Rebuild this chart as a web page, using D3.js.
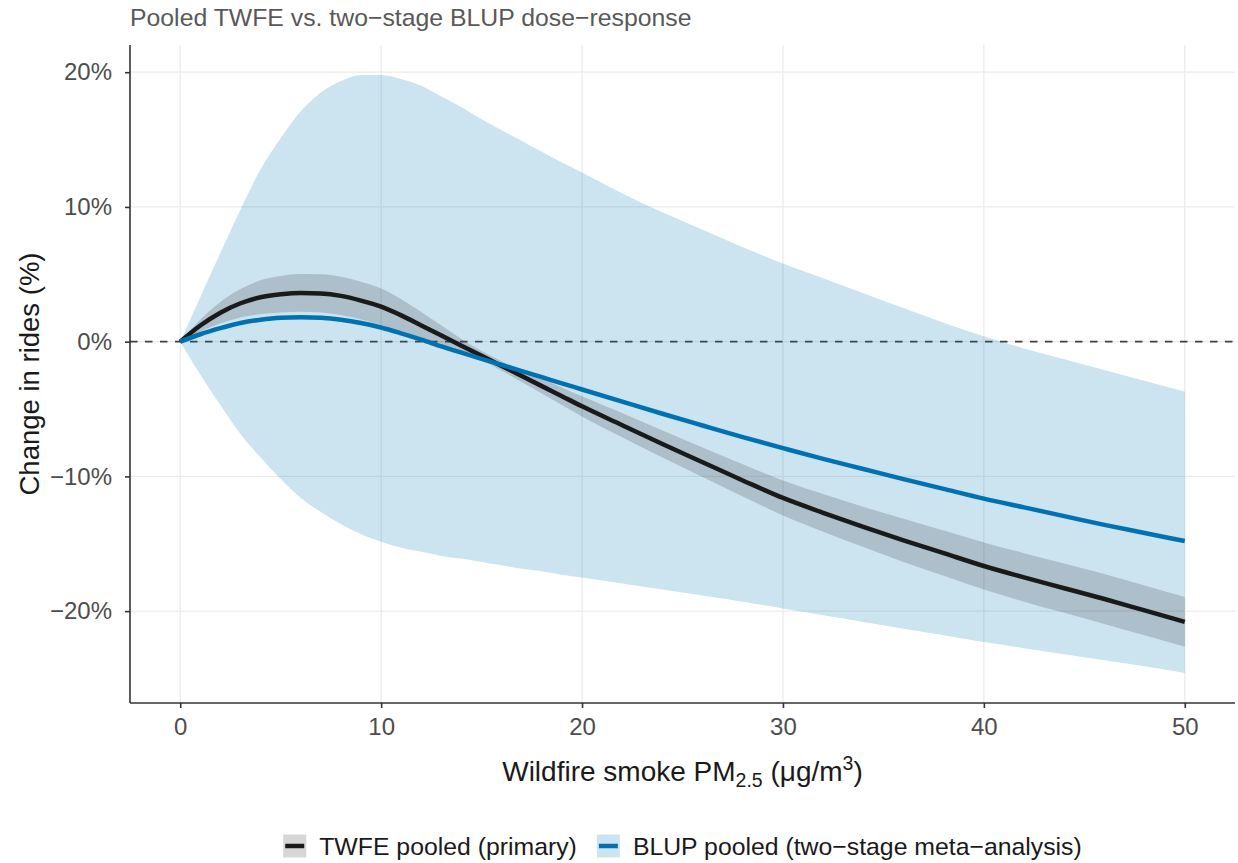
<!DOCTYPE html>
<html>
<head>
<meta charset="utf-8">
<script src="https://cdn.jsdelivr.net/npm/d3@7/dist/d3.min.js"></script>
<style>
  html, body { margin: 0; padding: 0; background: #fff; }
  svg { display: block; font-family: "Liberation Sans", Arial, Helvetica, sans-serif; }
</style>
</head>
<body>
<svg id="chart" width="1238" height="863"></svg>
<script>
// ---- data ----
const dose = [0,1,2,3,4,5,6,7,8,9,10,11,12,13,14,15,16,17,18,19,20,22,24,26,28,30,32,34,36,38,40,42,44,46,48,50];

const twfe = [0,1.2,2.15,2.85,3.3,3.52,3.62,3.58,3.4,3.05,2.6,1.95,1.2,0.45,-0.3,-1.05,-1.8,-2.55,-3.3,-4.05,-4.8,-6.2,-7.6,-8.95,-10.3,-11.6,-12.7,-13.75,-14.75,-15.7,-16.65,-17.5,-18.3,-19.1,-19.95,-20.8];
const twfeUpper = [0,1.65,2.95,3.9,4.55,4.87,5.02,5.0,4.82,4.45,3.95,3.15,2.2,1.2,0.2,-0.7,-1.45,-2.1,-2.75,-3.4,-4.05,-5.3,-6.6,-7.85,-9.1,-10.3,-11.3,-12.25,-13.15,-14.02,-14.9,-15.7,-16.47,-17.25,-18.1,-18.95];
const twfeLower = [0,0.75,1.35,1.8,2.05,2.17,2.22,2.16,1.98,1.65,1.25,0.75,0.2,-0.3,-0.8,-1.4,-2.15,-3.0,-3.85,-4.7,-5.55,-7.1,-8.6,-10.05,-11.5,-12.9,-14.1,-15.25,-16.35,-17.38,-18.4,-19.3,-20.13,-20.95,-21.8,-22.65];

const blup = [0,0.55,1.0,1.38,1.63,1.78,1.82,1.77,1.62,1.38,1.05,0.62,0.15,-0.35,-0.82,-1.28,-1.73,-2.18,-2.63,-3.1,-3.55,-4.45,-5.35,-6.22,-7.08,-7.9,-8.7,-9.45,-10.2,-10.93,-11.65,-12.3,-12.95,-13.6,-14.2,-14.8];
const blupUpper = [0,3.3,6.6,9.8,12.8,15.1,17.1,18.5,19.35,19.8,19.8,19.5,19.0,18.2,17.4,16.5,15.7,14.9,14.1,13.3,12.55,11.0,9.6,8.3,7.0,5.8,4.7,3.6,2.5,1.4,0.4,-0.5,-1.3,-2.1,-2.9,-3.7];
const blupLower = [0,-2.45,-4.7,-6.85,-8.6,-10.2,-11.6,-12.65,-13.55,-14.3,-14.85,-15.3,-15.6,-15.9,-16.1,-16.35,-16.6,-16.85,-17.05,-17.3,-17.5,-17.95,-18.4,-18.85,-19.3,-19.8,-20.3,-20.8,-21.3,-21.8,-22.3,-22.75,-23.2,-23.65,-24.1,-24.6];

const xTicks = [0,10,20,30,40,50];
const yTicks = [-20,-10,0,10,20];
const legendLabels = ["TWFE pooled (primary)", "BLUP pooled (two\u2212stage meta\u2212analysis)"];

// ---- layout ----
const svg = d3.select("#chart");
const panel = {left: 130, right: 1235, top: 45, bottom: 703};
const x = d3.scaleLinear().domain([-2.5, 52.5]).range([panel.left, panel.right]);
const y = d3.scaleLinear().domain([-26.82, 22.02]).range([panel.bottom, panel.top]);

const BLUE = "#0072B2";
const fmtPct = v => (v < 0 ? "\u2212" + Math.abs(v) : String(v)) + "%";

// grid
const grid = svg.append("g");
grid.selectAll("line.gx").data(xTicks).join("line")
  .attr("x1", d => x(d)).attr("x2", d => x(d))
  .attr("y1", panel.top).attr("y2", panel.bottom)
  .attr("stroke", "#ebebeb").attr("stroke-width", 1.3);
grid.selectAll("line.gy").data(yTicks).join("line")
  .attr("x1", panel.left).attr("x2", panel.right)
  .attr("y1", d => y(d)).attr("y2", d => y(d))
  .attr("stroke", "#ebebeb").attr("stroke-width", 1.3);

// zero reference
svg.append("line")
  .attr("x1", panel.left).attr("x2", panel.right)
  .attr("y1", y(0)).attr("y2", y(0))
  .attr("stroke", "#404040").attr("stroke-width", 1.6)
  .attr("stroke-dasharray", "7.5,7.5");

const rows = dose.map((d, i) => ({d, twfe: twfe[i], tu: twfeUpper[i], tl: twfeLower[i], blup: blup[i], bu: blupUpper[i], bl: blupLower[i]}));
const curve = d3.curveMonotoneX;

// ribbons
svg.append("path").datum(rows)
  .attr("d", d3.area().curve(curve).x(r => x(r.d)).y0(r => y(r.bl)).y1(r => y(r.bu)))
  .attr("fill", BLUE).attr("fill-opacity", 0.2);
svg.append("path").datum(rows)
  .attr("d", d3.area().curve(curve).x(r => x(r.d)).y0(r => y(r.tl)).y1(r => y(r.tu)))
  .attr("fill", "#333333").attr("fill-opacity", 0.2);

// lines
svg.append("path").datum(rows)
  .attr("d", d3.line().curve(curve).x(r => x(r.d)).y(r => y(r.twfe)))
  .attr("fill", "none").attr("stroke", "#1a1a1a").attr("stroke-width", 4.5).attr("stroke-linejoin", "round");
svg.append("path").datum(rows)
  .attr("d", d3.line().curve(curve).x(r => x(r.d)).y(r => y(r.blup)))
  .attr("fill", "none").attr("stroke", BLUE).attr("stroke-width", 4.5).attr("stroke-linejoin", "round");

// axes
const xAxis = svg.append("g").attr("transform", `translate(0,${panel.bottom})`)
  .call(d3.axisBottom(x).tickValues(xTicks).tickSize(5).tickPadding(10).tickSizeOuter(0));
const yAxis = svg.append("g").attr("transform", `translate(${panel.left},0)`)
  .call(d3.axisLeft(y).tickValues(yTicks).tickFormat(fmtPct).tickSize(5).tickPadding(13).tickSizeOuter(0));
[xAxis, yAxis].forEach(g => {
  g.select(".domain").attr("stroke", "#333333").attr("stroke-width", 1.6);
  g.selectAll(".tick line").attr("stroke", "#333333").attr("stroke-width", 1.6);
  g.selectAll(".tick text").attr("fill", "#4d4d4d").style("font-size", "24px")
    .style("font-family", '"Liberation Sans", Arial, sans-serif');
});
// make axes span full panel
xAxis.select(".domain").attr("d", `M${panel.left},0H${panel.right}`);
yAxis.select(".domain").attr("d", `M0,${panel.top}V${panel.bottom}`);

// title
svg.append("text").attr("x", 130).attr("y", 26)
  .attr("fill", "#595959").style("font-size", "24.8px")
  .text("Pooled TWFE vs. two\u2212stage BLUP dose\u2212response");

// y title
svg.append("text")
  .attr("transform", `translate(39,${(panel.top + panel.bottom) / 2}) rotate(-90)`)
  .attr("text-anchor", "middle").attr("fill", "#1a1a1a").style("font-size", "27.5px")
  .text("Change in rides (%)");

// x title with sub/superscripts
const xt = svg.append("text")
  .attr("x", (panel.left + panel.right) / 2).attr("y", 781)
  .attr("text-anchor", "middle").attr("fill", "#1a1a1a").style("font-size", "28px");
xt.append("tspan").text("Wildfire smoke PM");
xt.append("tspan").attr("dy", 6).style("font-size", "19.5px").text("2.5");
xt.append("tspan").attr("dy", -6).text(" (\u03bcg/m");
xt.append("tspan").attr("dy", -11).style("font-size", "19.5px").text("3");
xt.append("tspan").attr("dy", 11).text(")");

// legend
const legend = svg.append("g");
const keySize = 23, keyGap = 13, itemGap = 20, legY = 846;
const keys = [
  {bg: "#333333", bgOp: 0.2, line: "#1a1a1a"},
  {bg: BLUE, bgOp: 0.2, line: BLUE}
];
const items = legendLabels.map((lab, i) => {
  const g = legend.append("g");
  g.append("rect").attr("width", keySize).attr("height", keySize).attr("y", legY - keySize / 2)
    .attr("fill", keys[i].bg).attr("fill-opacity", keys[i].bgOp);
  g.append("line").attr("x1", 2).attr("x2", keySize - 2).attr("y1", legY).attr("y2", legY)
    .attr("stroke", keys[i].line).attr("stroke-width", 4.5);
  const t = g.append("text").attr("x", keySize + keyGap).attr("y", legY + 8.5)
    .attr("fill", "#1a1a1a").style("font-size", "24.8px").text(lab);
  return {g, w: keySize + keyGap + t.node().getComputedTextLength()};
});
const total = items.reduce((s, it) => s + it.w, 0) + itemGap * (items.length - 1);
let cx = (panel.left + panel.right) / 2 - total / 2;
items.forEach(it => { it.g.attr("transform", `translate(${cx},0)`); cx += it.w + itemGap; });
</script>
</body>
</html>
